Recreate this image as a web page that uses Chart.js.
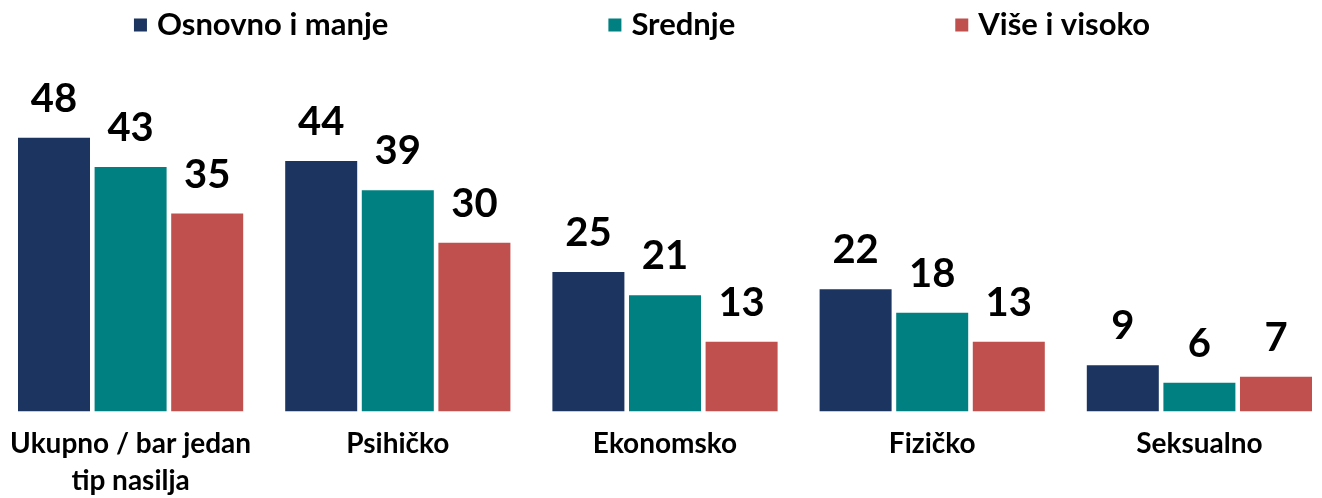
<!DOCTYPE html>
<html>
<head>
<meta charset="utf-8">
<script src="https://cdn.jsdelivr.net/npm/chart.js@4/dist/chart.umd.min.js"></script>
<style>
  html, body { margin: 0; padding: 0; background: #ffffff; overflow: hidden; }
  #wrap { position: absolute; left: -3px; top: 0; width: 1336px; height: 506px; }
</style>
</head>
<body>
<div id="wrap"><canvas id="chart"></canvas></div>
<script>
// data
const categories = [
  ['Ukupno / bar jedan', 'tip nasilja'],
  'Psihičko',
  'Ekonomsko',
  'Fizičko',
  'Seksualno'
];
const seriesNames = ['Osnovno i manje', 'Srednje', 'Više i visoko'];
const osnovnoValues = [48, 44, 25, 22, 9];
const srednjeValues = [43, 39, 21, 18, 6];
const viseValues = [35, 30, 13, 13, 7];

const colors = ['#1c3560', '#008080', '#c0504d'];
const fontFamily = "'Lato', sans-serif";

// value labels above bars
const valueLabels = {
  id: 'valueLabels',
  afterDatasetsDraw(chart) {
    const ctx = chart.ctx;
    ctx.save();
    ctx.font = 'bold 40px ' + fontFamily;
    ctx.fillStyle = '#000000';
    ctx.textAlign = 'center';
    ctx.textBaseline = 'alphabetic';
    chart.data.datasets.forEach((ds, i) => {
      chart.getDatasetMeta(i).data.forEach((bar, j) => {
        ctx.fillText(String(ds.data[j]), bar.x, bar.y - 26);
      });
    });
    ctx.restore();
  }
};

// legend drawn with wide gaps between items
const wideLegend = {
  id: 'wideLegend',
  afterDraw(chart) {
    const ctx = chart.ctx;
    const box = 13, gap = 10, itemGap = 220;
    ctx.save();
    ctx.font = 'bold 31px ' + fontFamily;
    ctx.textBaseline = 'middle';
    const widths = chart.data.datasets.map(ds => box + gap + ctx.measureText(ds.label).width);
    const total = widths.reduce((a, b) => a + b, 0) + itemGap * (widths.length - 1);
    let x = 645 - total / 2;
    const y = 25;
    chart.data.datasets.forEach((ds, i) => {
      ctx.fillStyle = ds.backgroundColor;
      ctx.fillRect(x, y - box / 2, box, box);
      ctx.fillStyle = '#000000';
      ctx.fillText(ds.label, x + box + gap, y);
      x += widths[i] + itemGap;
    });
    ctx.restore();
  }
};

new Chart(document.getElementById('chart'), {
  type: 'bar',
  data: {
    labels: categories,
    datasets: [
      { label: seriesNames[0], data: osnovnoValues, backgroundColor: colors[0] },
      { label: seriesNames[1], data: srednjeValues, backgroundColor: colors[1] },
      { label: seriesNames[2], data: viseValues, backgroundColor: colors[2] }
    ]
  },
  options: {
    responsive: true,
    maintainAspectRatio: false,
    animation: false,
    categoryPercentage: 0.86,
    barPercentage: 0.94,
    layout: { padding: { top: 97, bottom: 0, left: 0, right: 0 } },
    plugins: {
      legend: { display: false },
      tooltip: { enabled: false }
    },
    scales: {
      x: {
        grid: { display: false },
        border: { display: false },
        ticks: {
          color: '#000000',
          font: { family: fontFamily, size: 28, weight: 'bold', lineHeight: 1.3 },
          padding: 7,
          maxRotation: 0,
          autoSkip: false
        }
      },
      y: {
        display: false,
        min: 1.1,
        max: 55
      }
    }
  },
  plugins: [valueLabels, wideLegend]
});
</script>
</body>
</html>
